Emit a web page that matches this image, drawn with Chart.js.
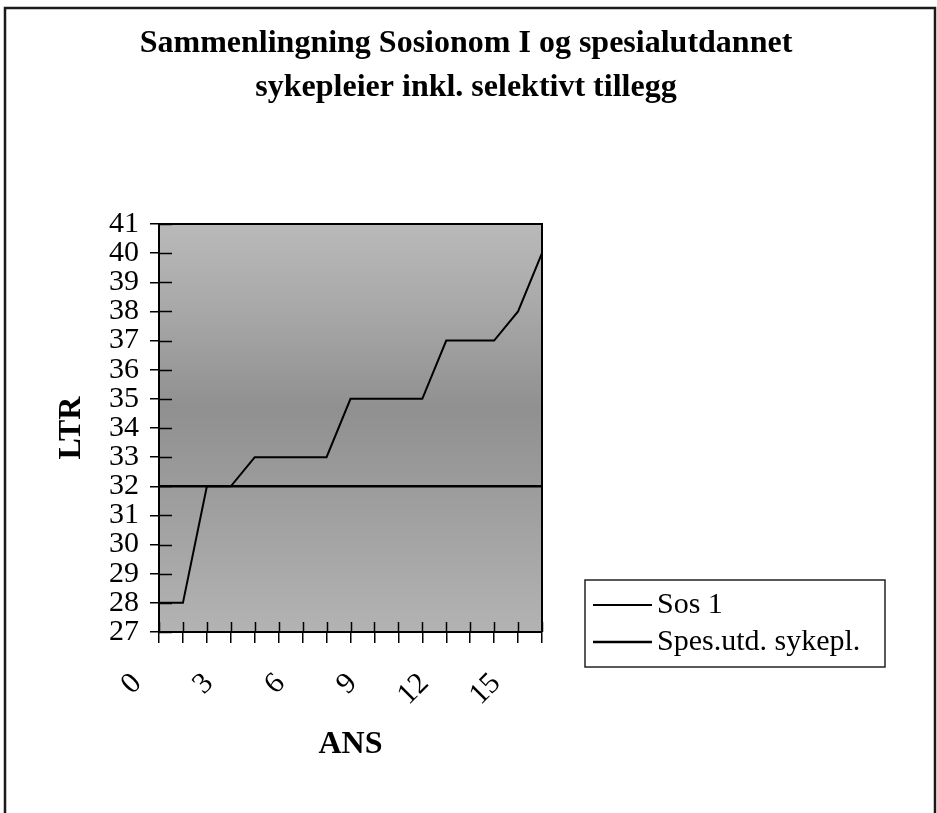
<!DOCTYPE html>
<html>
<head>
<meta charset="utf-8">
<script src="https://cdn.jsdelivr.net/npm/chart.js@4.4.1/dist/chart.umd.min.js"></script>
<style>
  html, body { margin: 0; padding: 0; background: #ffffff; }
  canvas { display: block; }
</style>
</head>
<body>
<canvas id="c" width="937" height="813"></canvas>
<script>
// ---- data ----
const categories = ['0','1','2','3','4','5','6','7','8','9','10','11','12','13','14','15','16'];
const sos1 = [28, 28, 32, 32, 33, 33, 33, 33, 35, 35, 35, 35, 37, 37, 37, 38, 40];
const spesUtd = [32, 32, 32, 32, 32, 32, 32, 32, 32, 32, 32, 32, 32, 32, 32, 32, 32];
const xTickLabels = ['0', '3', '6', '9', '12', '15'];
const yMin = 27;
const yMax = 41;
const seriesNames = ['Sos 1', 'Spes.utd. sykepl.'];
const titleLines = ['Sammenlingning Sosionom I og spesialutdannet', 'sykepleier inkl. selektivt tillegg'];
const xTitle = 'ANS';
const yTitle = 'LTR';

const SERIF = "'Liberation Serif', 'Times New Roman', serif";

const pagePlugin = {
  id: 'page',
  beforeDraw(chart) {
    const { ctx, width, height, chartArea: a } = chart;
    ctx.save();
    ctx.fillStyle = '#ffffff';
    ctx.fillRect(0, 0, width, height);
    // outer frame
    ctx.strokeStyle = '#1a1a1a';
    ctx.lineWidth = 2.5;
    ctx.beginPath();
    ctx.moveTo(5, height);
    ctx.lineTo(5, 8);
    ctx.lineTo(935, 8);
    ctx.lineTo(935, height);
    ctx.stroke();
    // plot background
    const g = ctx.createLinearGradient(0, a.top, 0, a.bottom);
    g.addColorStop(0, '#b9b9b9');
    g.addColorStop(0.2, '#a9a9a9');
    g.addColorStop(0.45, '#909090');
    g.addColorStop(0.65, '#9c9c9c');
    g.addColorStop(1, '#b3b3b3');
    ctx.fillStyle = g;
    ctx.fillRect(a.left, a.top, a.right - a.left, a.bottom - a.top);
    ctx.restore();
  },
  afterDraw(chart) {
    const { ctx, chartArea: a, scales } = chart;
    ctx.save();
    ctx.strokeStyle = '#000';
    // top & right border of plot area
    ctx.lineWidth = 2;
    ctx.beginPath();
    ctx.moveTo(a.left, a.top);
    ctx.lineTo(a.right, a.top);
    ctx.lineTo(a.right, a.bottom);
    ctx.stroke();
    // inner parts of tick marks
    ctx.lineWidth = 1.5;
    ctx.beginPath();
    scales.y.ticks.forEach((t, i) => {
      const py = Math.round(scales.y.getPixelForTick(i)) + 0.5;
      ctx.moveTo(a.left, py);
      ctx.lineTo(a.left + 13, py);
    });
    scales.x.ticks.forEach((t, i) => {
      const px = Math.round(scales.x.getPixelForTick(i)) + 0.5;
      ctx.moveTo(px, a.bottom);
      ctx.lineTo(px, a.bottom - 10);
    });
    ctx.stroke();
    // legend box
    const lx = a.right + 43, ly = a.bottom - 52, lw = 300, lh = 87;
    ctx.lineWidth = 1.5;
    ctx.strokeStyle = '#222';
    ctx.strokeRect(lx, ly, lw, lh);
    ctx.font = '30px ' + SERIF;
    ctx.textBaseline = 'middle';
    ctx.textAlign = 'left';
    ctx.fillStyle = '#000';
    chart.data.datasets.forEach((ds, i) => {
      const cy = ly + 25 + i * 37;
      ctx.lineWidth = ds.borderWidth;
      ctx.strokeStyle = ds.borderColor;
      ctx.beginPath();
      ctx.moveTo(lx + 8, cy);
      ctx.lineTo(lx + 67, cy);
      ctx.stroke();
      ctx.fillText(ds.label, lx + 72, cy);
    });
    ctx.restore();
  }
};

new Chart(document.getElementById('c'), {
  type: 'line',
  data: {
    labels: categories,
    datasets: [
      { label: seriesNames[0], data: sos1, borderColor: '#000', borderWidth: 2, pointRadius: 0, tension: 0, fill: false, yAxisID: 'y' },
      { label: seriesNames[1], data: spesUtd, borderColor: '#000', borderWidth: 2.5, pointRadius: 0, tension: 0, fill: false, yAxisID: 'y' }
    ]
  },
  options: {
    responsive: false,
    animation: false,
    layout: { padding: { left: 5, right: 10, top: 0, bottom: 0 } },
    plugins: {
      legend: { display: false },
      tooltip: { enabled: false },
      title: {
        display: true,
        text: titleLines,
        color: '#000',
        font: { family: SERIF, size: 32, weight: 'bold', lineHeight: '44px' },
        padding: { top: 22, bottom: 114 }
      }
    },
    scales: {
      x: {
        type: 'category',
        offset: false,
        grid: { display: true, drawOnChartArea: false, drawTicks: true, tickLength: 11, color: '#000', lineWidth: 1.5 },
        border: { display: true, color: '#000', width: 2 },
        ticks: {
          autoSkip: false,
          minRotation: 45,
          maxRotation: 45,
          padding: 23,
          labelOffset: -22,
          color: '#000',
          font: { family: SERIF, size: 30 },
          callback: function (v, i) {
            const l = this.getLabelForValue(v);
            return xTickLabels.includes(l) ? l : '';
          }
        },
        title: { display: true, text: xTitle, color: '#000', font: { family: SERIF, size: 32, weight: 'bold' }, padding: { top: 0, bottom: 49 } },
        afterFit(s) { s.height = 181; }
      },
      y: {
        position: 'left',
        min: yMin,
        max: yMax,
        grid: { display: true, drawOnChartArea: false, drawTicks: true, tickLength: 9, color: '#000', lineWidth: 1.5 },
        border: { display: true, color: '#000', width: 2 },
        ticks: { stepSize: 1, autoSkip: false, padding: 11, color: '#000', font: { family: SERIF, size: 30 } },
        title: { display: true, text: yTitle, color: '#000', font: { family: SERIF, size: 32, weight: 'bold' }, padding: { top: 48, bottom: 0 } },
        afterFit(s) { s.width = 154; }
      },
      spacer: {
        position: 'right',
        display: true,
        grid: { display: false },
        border: { display: false },
        ticks: { display: false },
        afterFit(s) { s.width = 385; }
      }
    }
  },
  plugins: [pagePlugin]
});
</script>
</body>
</html>
